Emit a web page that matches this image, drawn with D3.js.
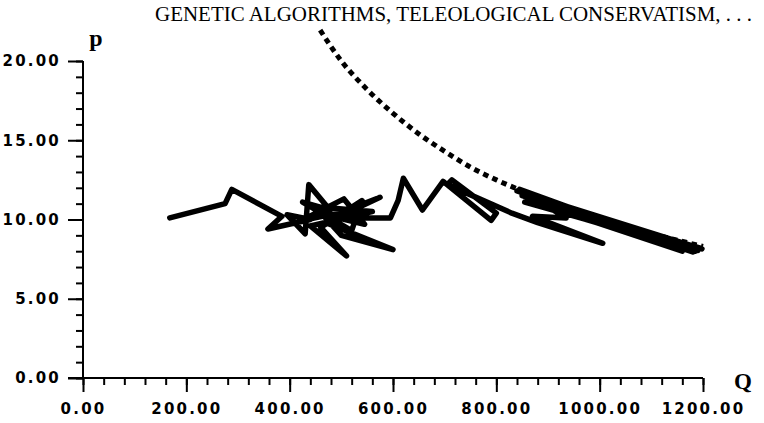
<!DOCTYPE html>
<html>
<head>
<meta charset="utf-8">
<script src="https://cdn.jsdelivr.net/npm/d3@7/dist/d3.min.js"></script>
<style>
  html, body { margin: 0; padding: 0; background: #fff; }
  svg { display: block; }
</style>
</head>
<body>
<svg id="chart" width="764" height="423"></svg>
<script>
// ---------- data ----------
const titleText = "GENETIC ALGORITHMS, TELEOLOGICAL CONSERVATISM, . . .";
const xTickValues = [0, 200, 400, 600, 800, 1000, 1200];
const yTickValues = [0, 5, 10, 15, 20];

// trajectory of (Q, p)
const pathQ = [168, 275, 288, 385, 358, 440, 395, 430, 437, 478, 425, 520, 540, 460, 510, 440, 560, 450, 500, 600,
  470, 575, 480, 535, 420, 505, 545, 455, 515, 595, 610, 620, 657, 697, 790, 800, 714, 705, 830, 880, 1006,
  870, 935, 845, 1180, 860, 1198, 840, 1170, 880, 1150, 850, 1185, 900, 1195, 870, 1160, 920, 1180, 855, 1190];
const pathP = [10.1, 11.0, 11.9, 10.2, 9.4, 10.0, 10.3, 9.1, 12.2, 10.6, 11.1, 9.3, 11.2, 9.5, 7.7, 9.6, 10.5, 10.8, 9.0, 8.1,
  9.8, 11.4, 10.2, 10.7, 9.9, 11.3, 9.7, 10.4, 10.1, 10.1, 11.2, 12.6, 10.6, 12.4, 9.95, 10.4, 12.5, 12.2, 10.4, 9.8, 8.5,
  10.2, 10.1, 11.9, 7.95, 11.4, 8.15, 11.8, 8.1, 10.9, 8.3, 11.5, 8.0, 10.8, 8.2, 11.3, 8.0, 10.6, 8.1, 11.1, 8.05];

// dotted reference curve
const curveQ = [459, 500, 550, 600, 650, 700, 750, 800, 850, 900, 950, 1000, 1050, 1100, 1150, 1200];
const curveP = [21.95, 20.0, 18.2, 16.7, 15.4, 14.3, 13.3, 12.5, 11.8, 11.1, 10.5, 10.0, 9.5, 9.1, 8.7, 8.3];

// ---------- layout ----------
const svg = d3.select("#chart");
const x = d3.scaleLinear().domain([0, 1200]).range([83, 703]);
const y = d3.scaleLinear().domain([0, 20]).range([378, 61]);

const ink = "#000";

// title
svg.append("text")
  .attr("x", 155).attr("y", 21)
  .attr("textLength", 597).attr("lengthAdjust", "spacingAndGlyphs")
  .attr("font-family", "Liberation Serif, DejaVu Serif, serif")
  .attr("font-size", 20)
  .attr("fill", ink)
  .text(titleText);

// axes
const labelFont = "DejaVu Sans, Liberation Sans, sans-serif";
const ls = 2.2;

const xAxis = d3.axisBottom(x)
  .tickValues(xTickValues)
  .tickSize(14)
  .tickFormat(d3.format(".2f"));
const xMinor = d3.axisBottom(x).tickValues(d3.range(0, 1201, 40)).tickSize(7).tickFormat("");

const gxMinor = svg.append("g").attr("transform", `translate(0,${y(0)})`).call(xMinor);
const gx = svg.append("g").attr("transform", `translate(0,${y(0)})`).call(xAxis);

const yAxis = d3.axisLeft(y)
  .tickValues(yTickValues)
  .tickSize(15)
  .tickFormat(d3.format(".2f"));
const yMinor = d3.axisLeft(y).tickValues(d3.range(0, 21, 1)).tickSize(7).tickFormat("");

const gyMinor = svg.append("g").attr("transform", `translate(${x(0)},0)`).call(yMinor);
const gy = svg.append("g").attr("transform", `translate(${x(0)},0)`).call(yAxis);

[gx, gxMinor, gy, gyMinor].forEach(g => {
  g.select(".domain").remove();
  g.selectAll(".tick line").attr("stroke", ink).attr("stroke-width", 2);
});

gx.selectAll(".tick text")
  .attr("font-family", labelFont).attr("font-size", 15).attr("font-weight", "bold")
  .attr("fill", ink).style("letter-spacing", ls + "px")
  .attr("y", 25);

gy.selectAll(".tick text")
  .attr("font-family", labelFont).attr("font-size", 15).attr("font-weight", "bold")
  .attr("fill", ink).style("letter-spacing", ls + "px")
  .attr("x", -22);

// axis lines
svg.append("line")
  .attr("x1", x(0) - 15).attr("x2", x(1200))
  .attr("y1", y(0)).attr("y2", y(0))
  .attr("stroke", ink).attr("stroke-width", 2);
svg.append("line")
  .attr("x1", x(0)).attr("x2", x(0))
  .attr("y1", y(20)).attr("y2", y(0))
  .attr("stroke", ink).attr("stroke-width", 2);

// axis names
svg.append("text")
  .attr("x", 96).attr("y", 46).attr("text-anchor", "middle")
  .attr("font-family", "Liberation Serif, DejaVu Serif, serif")
  .attr("font-weight", "bold").attr("font-size", 24).attr("fill", ink)
  .text("p");
svg.append("text")
  .attr("x", 743).attr("y", 389).attr("text-anchor", "middle")
  .attr("font-family", "Liberation Serif, DejaVu Serif, serif")
  .attr("font-weight", "bold").attr("font-size", 23).attr("fill", ink)
  .text("Q");

// dotted curve
const curveData = curveQ.map((q, i) => [q, curveP[i]]);
svg.append("path")
  .datum(curveData)
  .attr("d", d3.line().x(d => x(d[0])).y(d => y(d[1])).curve(d3.curveMonotoneX))
  .attr("fill", "none").attr("stroke", ink)
  .attr("stroke-width", 5).attr("stroke-dasharray", "5.5 4.5");

// trajectory
const pathData = pathQ.map((q, i) => [q, pathP[i]]);
svg.append("path")
  .datum(pathData)
  .attr("d", d3.line().x(d => x(d[0])).y(d => y(d[1])))
  .attr("fill", "none").attr("stroke", ink)
  .attr("stroke-width", 5.5).attr("stroke-linejoin", "round").attr("stroke-linecap", "round");
</script>
</body>
</html>
